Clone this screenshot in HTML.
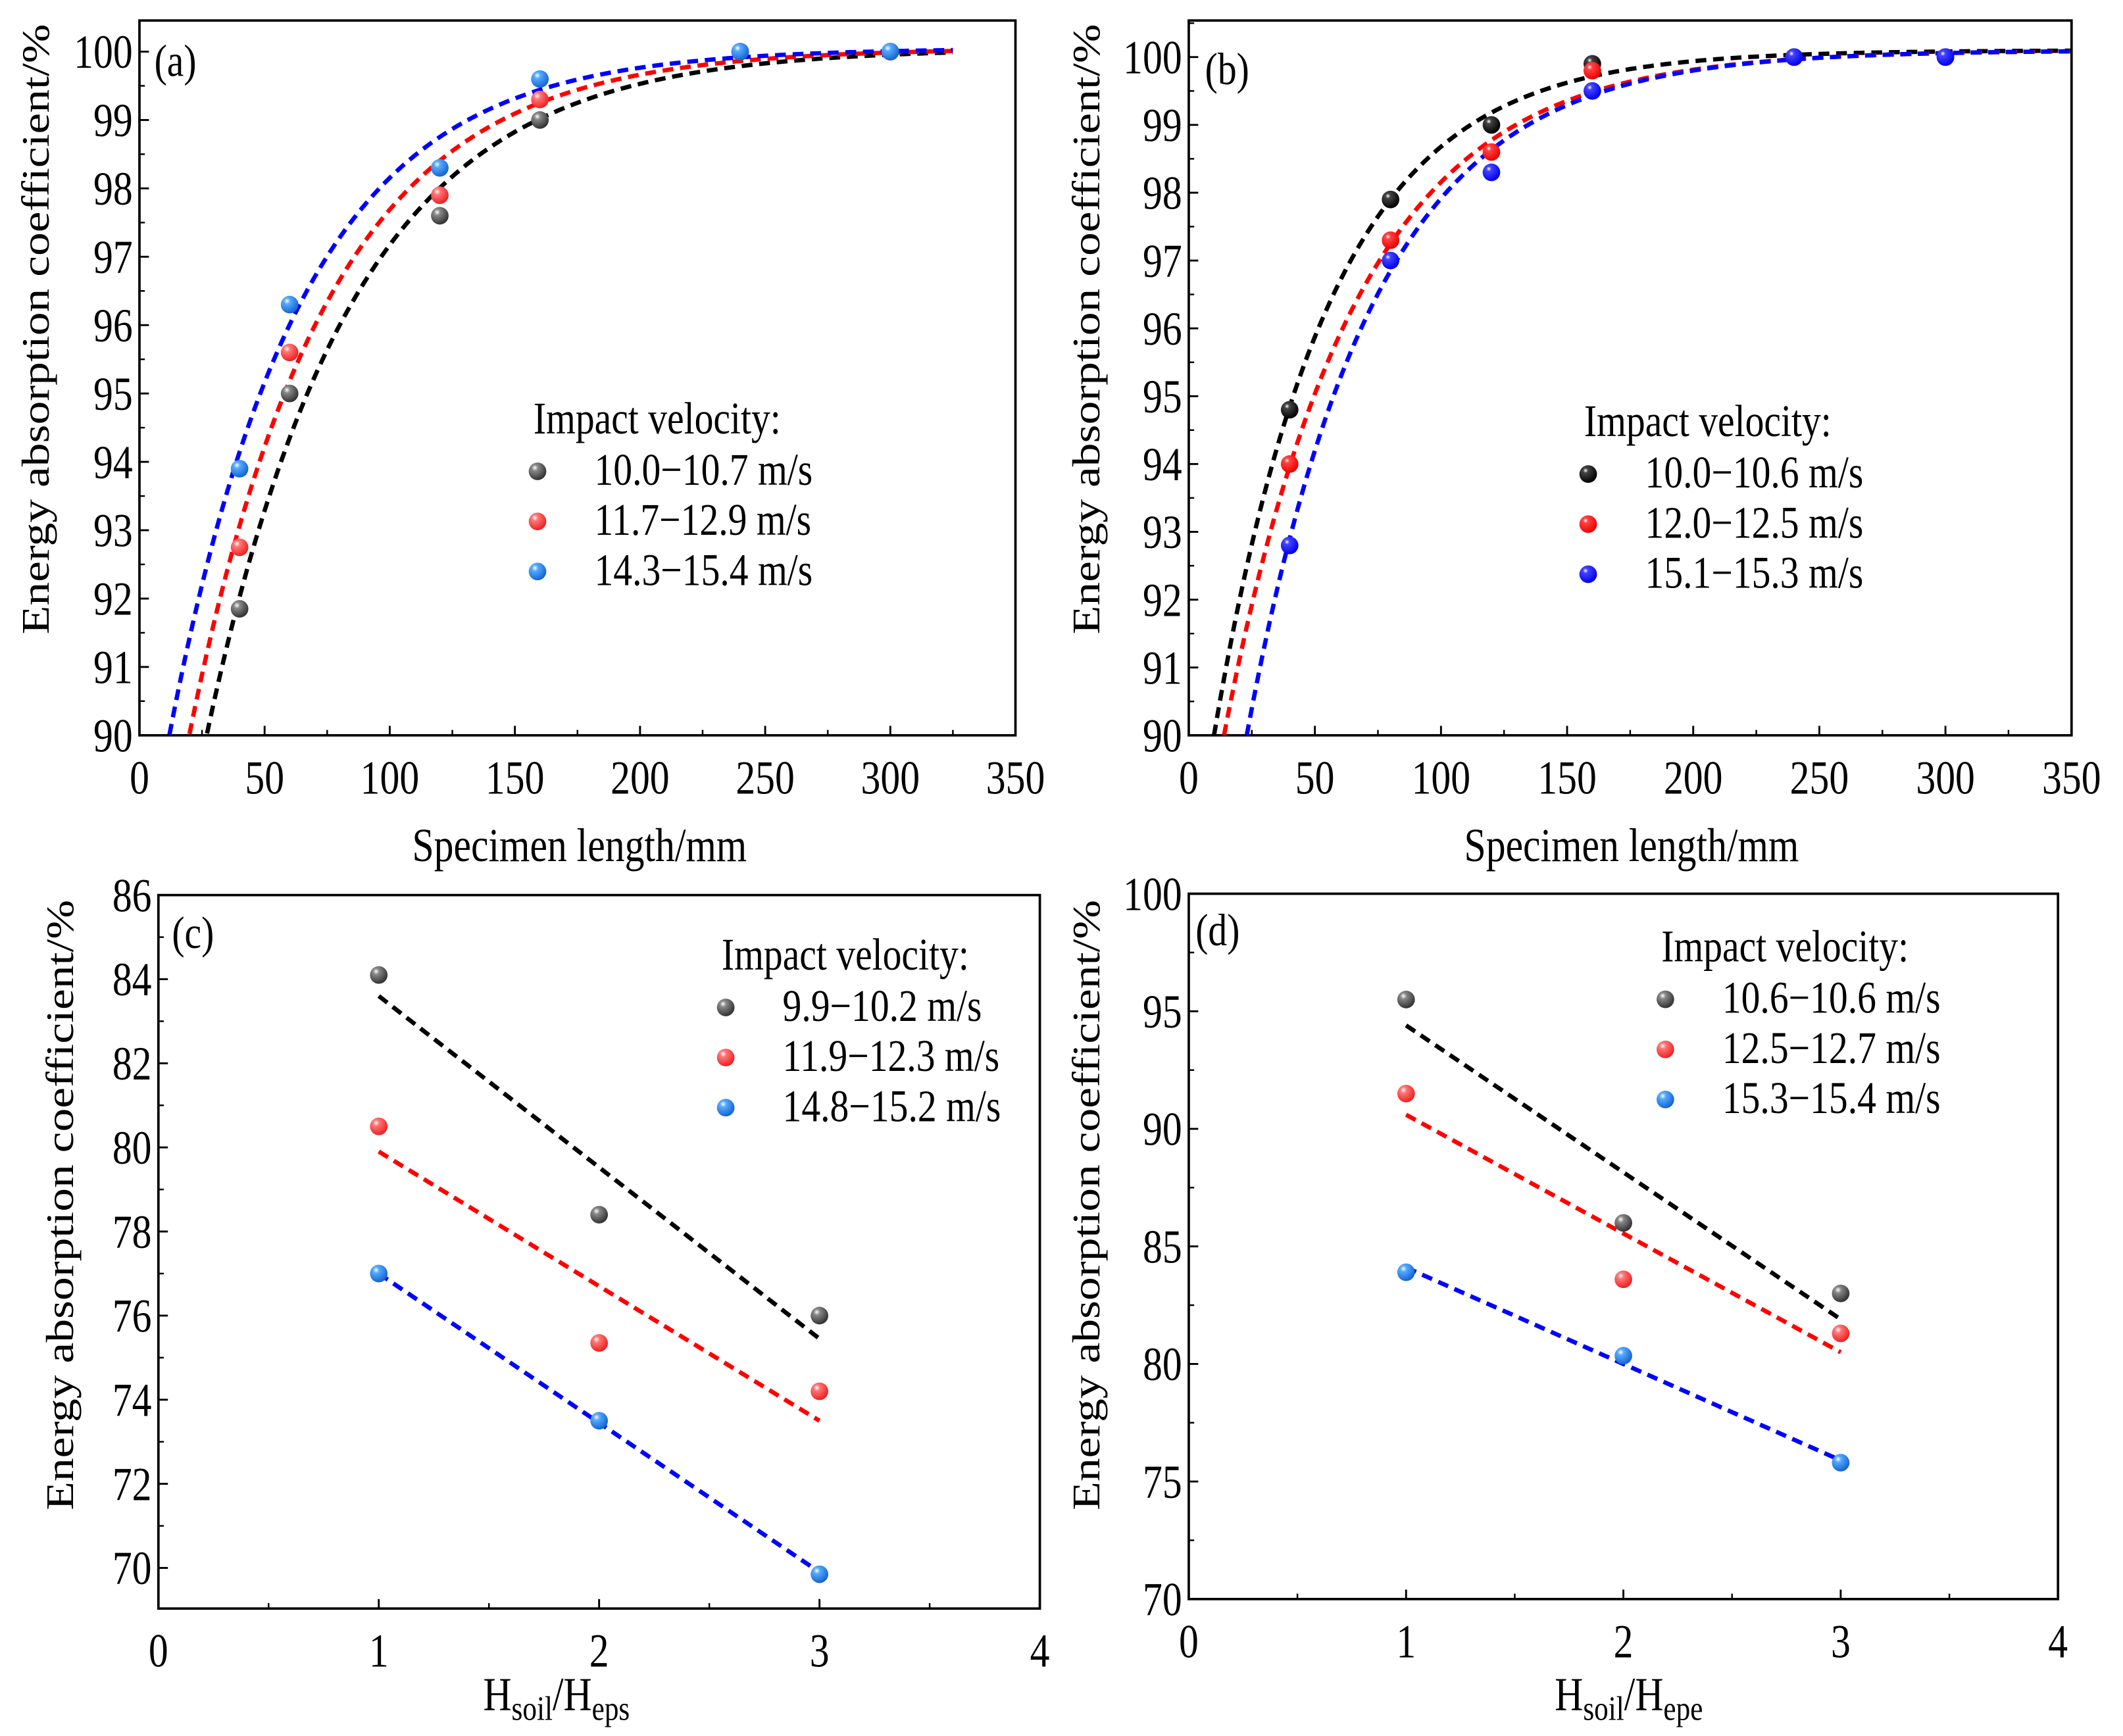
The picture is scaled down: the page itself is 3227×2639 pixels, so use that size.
<!DOCTYPE html>
<html><head><meta charset="utf-8"><style>
html,body{margin:0;padding:0;background:#fff}
svg{display:block}
text{font-family:"Liberation Serif",serif;fill:#000}
</style></head><body>
<svg id="fig" width="3227" height="2639" viewBox="0 0 1568 1282" xmlns="http://www.w3.org/2000/svg">
<defs>
<radialGradient id="g-k" cx="0.35" cy="0.3" r="0.7"><stop offset="0" stop-color="#fff"/><stop offset="0.25" stop-color="#888"/><stop offset="1" stop-color="#333"/></radialGradient>
<radialGradient id="g-r" cx="0.35" cy="0.3" r="0.7"><stop offset="0" stop-color="#fff"/><stop offset="0.25" stop-color="#f77"/><stop offset="1" stop-color="#e22"/></radialGradient>
<radialGradient id="g-b" cx="0.35" cy="0.3" r="0.7"><stop offset="0" stop-color="#fff"/><stop offset="0.25" stop-color="#5af"/><stop offset="1" stop-color="#1565d0"/></radialGradient>
<radialGradient id="g-K" cx="0.35" cy="0.3" r="0.7"><stop offset="0" stop-color="#fff"/><stop offset="0.2" stop-color="#444"/><stop offset="1" stop-color="#000"/></radialGradient>
<radialGradient id="g-R" cx="0.35" cy="0.3" r="0.7"><stop offset="0" stop-color="#fff"/><stop offset="0.2" stop-color="#f44"/><stop offset="1" stop-color="#e00"/></radialGradient>
<radialGradient id="g-B" cx="0.35" cy="0.3" r="0.7"><stop offset="0" stop-color="#fff"/><stop offset="0.2" stop-color="#44f"/><stop offset="1" stop-color="#00e"/></radialGradient>
</defs>
</svg>
<script>
// Panel (a) data
const aX = [40, 60, 120, 160, 240, 300];
const aBlack = [91.85, 95.0, 97.6, 99.0, 100.0, 100.0];
const aRed = [92.75, 95.6, 97.9, 99.3, 100.0, 100.0];
const aBlue = [93.9, 96.3, 98.3, 99.6, 100.0, 100.0];
const aFitY0 = [100.05, 100.05, 100.05];
const aFitA = [15.9, 14.4, 12.6];
const aFitT = [58.5, 55.3, 52.8];
const aLegend = ["10.0\u221210.7 m/s", "11.7\u221212.9 m/s", "14.3\u221215.4 m/s"];
// Panel (b) data
const bX = [40, 80, 120, 160, 240, 300];
const bBlack = [94.8, 97.9, 99.0, 99.9, 100.0, 100.0];
const bRed = [94.0, 97.3, 98.6, 99.8, 100.0, 100.0];
const bBlue = [92.8, 97.0, 98.3, 99.5, 100.0, 100.0];
const bFitY0 = [100.1, 100.1, 100.1];
const bFitA = [12.56, 13.2, 15.95];
const bFitT = [45.9, 52.2, 50.3];
const bLegend = ["10.0\u221210.6 m/s", "12.0\u221212.5 m/s", "15.1\u221215.3 m/s"];
// Panel (c) data
const cX = [1, 2, 3];
const cBlack = [84.1, 78.4, 76.0];
const cRed = [80.5, 75.35, 74.2];
const cBlue = [77.0, 73.5, 69.85];
const cLineStart = [83.6, 79.9, 77.0];
const cLineEnd = [75.45, 73.5, 69.9];
const cLegend = ["9.9\u221210.2 m/s", "11.9\u221212.3 m/s", "14.8\u221215.2 m/s"];
// Panel (d) data
const dX = [1, 2, 3];
const dBlack = [95.5, 86.0, 83.0];
const dRed = [91.5, 83.6, 81.3];
const dBlue = [83.9, 80.35, 75.8];
const dLineStart = [94.4, 90.6, 84.1];
const dLineEnd = [81.9, 80.5, 75.9];
const dLegend = ["10.6\u221210.6 m/s", "12.5\u221212.7 m/s", "15.3\u221215.4 m/s"];
// ticks
const abXTicks = [0, 50, 100, 150, 200, 250, 300, 350];
const abYTicks = [90, 91, 92, 93, 94, 95, 96, 97, 98, 99, 100];
const cYTicks = [70, 72, 74, 76, 78, 80, 82, 84, 86];
const dYTicks = [70, 75, 80, 85, 90, 95, 100];
const cdXTicks = [0, 1, 2, 3, 4];

const NS = "http://www.w3.org/2000/svg";
const svg = document.getElementById("fig");
function mk(tag, attrs, parent) {
  const e = document.createElementNS(NS, tag);
  for (const k in attrs) e.setAttribute(k, attrs[k]);
  (parent || svg).appendChild(e);
  return e;
}
function txt(parent, x, y, size, anchor, rot) {
  const tr = "translate(" + x + "," + y + ")" + (rot ? " rotate(-90) scale(1.2,1)" : " scale(1,1.2)");
  return mk("text", {x: 0, y: 0, "font-size": size, "text-anchor": anchor, transform: tr}, parent);
}
const lineColors = ["#000", "#f00", "#00f"];

function panel(p) {
  const g = mk("g", {});
  
  
  const sx = v => p.x0 + (v - p.xmin) / (p.xmax - p.xmin) * (p.x1 - p.x0);
  const sy = v => p.yb - (v - p.ymin) / (p.ymax - p.ymin) * (p.yb - p.yt);
  const fr = mk("rect", {x: p.x0, y: p.ftop, width: p.x1 - p.x0, height: p.fbot - p.ftop, fill: "none", stroke: "#000", "stroke-width": 1.8}, g);
  
  
  const xstep = p.xTicks[1] - p.xTicks[0];
  p.xTicks.forEach((t, i) => {
    const X = sx(t);
    mk("line", {x1: X, x2: X, y1: p.fbot, y2: p.fbot - 7, stroke: "#000", "stroke-width": 1.4}, g);
    if (i < p.xTicks.length - 1) {
      const Xm = sx(t + xstep / 2);
      mk("line", {x1: Xm, x2: Xm, y1: p.fbot, y2: p.fbot - 4, stroke: "#000", "stroke-width": 1.2}, g);
    }
    const tx = txt(g, X, p.fbot + 43, 29, "middle");
    tx.textContent = t;
    
    
  });
  const ystep = p.yTicks[1] - p.yTicks[0];
  p.yTicks.forEach((t, i) => {
    const Y = sy(t);
    mk("line", {x1: p.x0, x2: p.x0 + 7, y1: Y, y2: Y, stroke: "#000", "stroke-width": 1.4}, g);
    if (sy(t + ystep / 2) > p.ftop) {
      const Ym = sy(t + ystep / 2);
      mk("line", {x1: p.x0, x2: p.x0 + 4, y1: Ym, y2: Ym, stroke: "#000", "stroke-width": 1.2}, g);
    }
    const ty = txt(g, p.x0 - 5, Y + 12, 29, "end");
    ty.textContent = t;
    
    
  });
  for (let s = 0; s < 3; s++) {
    let d = "";
    if (p.fit) {
      for (let x = p.fitX0[s]; x <= p.fitX1; x += 1) {
        const y = p.fitY0[s] - p.fitA[s] * Math.exp(-x / p.fitT[s]);
        d += (d ? "L" : "M") + sx(x).toFixed(2) + "," + sy(Math.max(y, p.ymin)).toFixed(2);
      }
    } else {
      d = "M" + sx(p.xs[0]) + "," + sy(p.lStart[s]) + "L" + sx(p.xs[p.xs.length - 1]) + "," + sy(p.lEnd[s]);
    }
    const pa = mk("path", {d: d, fill: "none", stroke: lineColors[s], "stroke-width": 3.2, "stroke-dasharray": "8,5"}, g);
    
    
  }
  const grads = p.pure ? ["g-K", "g-R", "g-B"] : ["g-k", "g-r", "g-b"];
  p.series.forEach((ser, s) => {
    ser.forEach((v, i) => {
      const c = mk("circle", {cx: sx(p.xs[i]), cy: sy(v), r: 6.5, fill: "url(#" + grads[s] + ")"}, g);
      
      
    });
  });
  const lt = txt(g, p.lx, p.ly, 28, "start");
  lt.textContent = "Impact velocity:";
  
  
  p.legend.forEach((l, s) => {
    const Y = p.ly + 28 + s * 37;
    const c = mk("circle", {cx: p.lx + 3, cy: Y, r: 6.5, fill: "url(#" + grads[s] + ")"}, g);
    
    
    const t = txt(g, p.lx + 45, Y + 10, 28, "start");
    t.textContent = l;
    
    
  });
  const pl = txt(g, p.plx, p.ply, 28, "start");
  pl.textContent = "(" + p.id + ")";
  
  
  const yt = txt(g, p.ytx, p.yty, 29, "middle", true);
  yt.textContent = "Energy absorption coefficient/%";
  
  
  const xt = txt(g, p.xtx, p.xty, 29, "middle");
  
  
  if (p.xtitleSub) {
    xt.innerHTML = 'H<tspan font-size="21" dy="6">soil</tspan><tspan dy="-6">/H</tspan><tspan font-size="21" dy="6">' + p.xtitleSub + '</tspan>';
  } else xt.textContent = p.xtitle;
}

panel({id: "a", x0: 103, x1: 750, xmin: 0, xmax: 350, ymin: 90, ymax: 100, yb: 543, yt: 38, ftop: 15, fbot: 543,
  xTicks: abXTicks, yTicks: abYTicks, xs: aX, series: [aBlack, aRed, aBlue], fit: true,
  fitX0: [27, 20, 12], fitX1: 325, fitY0: aFitY0, fitA: aFitA, fitT: aFitT, legend: aLegend,
  lx: 394, ly: 320, plx: 114, ply: 56, ytx: 36, yty: 243, xtx: 428, xty: 636, xtitle: "Specimen length/mm"});
panel({id: "b", x0: 878, x1: 1530, xmin: 0, xmax: 350, ymin: 90, ymax: 100, yb: 543, yt: 42, ftop: 15, fbot: 543,
  xTicks: abXTicks, yTicks: abYTicks, xs: bX, series: [bBlack, bRed, bBlue], fit: true, pure: true,
  fitX0: [10, 14, 23], fitX1: 350, fitY0: bFitY0, fitA: bFitA, fitT: bFitT, legend: bLegend,
  lx: 1170, ly: 322, plx: 890, ply: 62, ytx: 812, yty: 243, xtx: 1205, xty: 636, xtitle: "Specimen length/mm"});
panel({id: "c", x0: 117, x1: 768, xmin: 0, xmax: 4, ymin: 70, ymax: 86, yb: 1158, yt: 661, ftop: 661, fbot: 1188,
  xTicks: cdXTicks, yTicks: cYTicks, xs: cX, series: [cBlack, cRed, cBlue], fit: false,
  lStart: cLineStart, lEnd: cLineEnd, legend: cLegend,
  lx: 533, ly: 716, plx: 127, ply: 700, ytx: 54, yty: 890, xtx: 411, xty: 1263, xtitleSub: "eps"});
panel({id: "d", x0: 878, x1: 1520, xmin: 0, xmax: 4, ymin: 70, ymax: 100, yb: 1181, yt: 660, ftop: 660, fbot: 1181,
  xTicks: cdXTicks, yTicks: dYTicks, xs: dX, series: [dBlack, dRed, dBlue], fit: false,
  lStart: dLineStart, lEnd: dLineEnd, legend: dLegend,
  lx: 1227, ly: 710, plx: 883, ply: 698, ytx: 812, yty: 890, xtx: 1203, xty: 1263, xtitleSub: "epe"});
</script>
</body></html>
